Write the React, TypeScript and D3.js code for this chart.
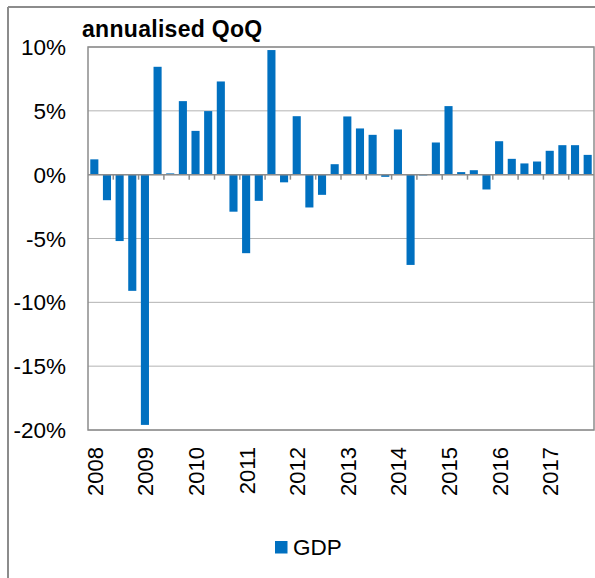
import React from "react";
import * as d3 from "d3";

const quarters: string[] = [];
const years = ["2008", "2009", "2010", "2011", "2012", "2013", "2014", "2015", "2016", "2017"];
for (const y of years) for (const q of ["Q1", "Q2", "Q3", "Q4"]) quarters.push(y + q);

const gdp = [
  1.2, -2.0, -5.2, -9.1, -19.6, 8.45, 0.1, 5.76,
  3.43, 4.98, 7.3, -2.9, -6.15, -2.05, 9.76, -0.6,
  4.58, -2.57, -1.58, 0.82, 4.56, 3.62, 3.12, -0.17,
  3.54, -7.07, -0.05, 2.52, 5.37, 0.2, 0.35, -1.16,
  2.62, 1.24, 0.88, 1.03, 1.87, 2.31, 2.31, 1.55,
];

const yTicks = [10, 5, 0, -5, -10, -15, -20];

const W = 595;
const H = 578;
const left = 88;
const right = 594;
const top = 47;
const bottom = 430;
const BLUE = "#0070C0";
const FONT = "'Liberation Sans', Arial, sans-serif";

export default function App() {
  const x = d3.scaleBand<string>().domain(quarters).range([left, right]).paddingInner(0.36).paddingOuter(0.18);
  const y = d3.scaleLinear().domain([-20, 10]).range([bottom, top]);
  const step = x.step();
  const y0 = y(0);

  return (
    <svg width={W} height={H} style={{ position: "absolute", left: 0, top: 0 }} fontFamily={FONT}>
      <rect x={0} y={0} width={W} height={H} fill="#fff" />
      {/* outer frame */}
      <line x1={8} x2={W} y1={7} y2={7} stroke="#8c8c8c" strokeWidth={2} />
      <line x1={8} x2={8} y1={7} y2={H} stroke="#8c8c8c" strokeWidth={2} />

      <text x={82} y={37} fontSize={23} fontWeight="bold" fill="#000" letterSpacing={0.3}>
        annualised QoQ
      </text>

      {/* gridlines */}
      {yTicks.map((t) => (
        <line key={"g" + t} x1={left} x2={right} y1={y(t)} y2={y(t)} stroke="#b3b3b3" strokeWidth={1} />
      ))}
      {/* plot border */}
      <rect x={left} y={top} width={right - left} height={bottom - top} fill="none" stroke="#8c8c8c" strokeWidth={1.5} />

      {/* y labels */}
      {yTicks.map((t) => (
        <text key={"yl" + t} x={66} y={y(t) + 8} fontSize={22.5} textAnchor="end" fill="#000">
          {t + "%"}
        </text>
      ))}

      {/* ticks on zero line */}
      {quarters.map((q, i) =>
        i % 2 === 0 && i > 0 ? (
          <line key={"t" + q} x1={(x(q) as number) - (step - x.bandwidth()) / 2} x2={(x(q) as number) - (step - x.bandwidth()) / 2} y1={y0} y2={y0 + 5} stroke="#8c8c8c" strokeWidth={1.5} />
        ) : null
      )}

      {/* bars */}
      {quarters.map((q, i) => {
        const v = gdp[i];
        const yt = y(Math.max(0, v));
        const yb = y(Math.min(0, v));
        return <rect key={q} x={x(q)} y={yt} width={x.bandwidth()} height={Math.max(0.8, yb - yt)} fill={BLUE} />;
      })}

      {/* zero axis */}
      <line x1={left} x2={right} y1={y0} y2={y0} stroke="#8c8c8c" strokeWidth={1.5} />

      {/* x labels */}
      {quarters.map((q, i) =>
        i % 4 === 0 ? (
          <text
            key={"xl" + q}
            transform={`translate(${(x(q) as number) + x.bandwidth() / 2 + 8.5},447) rotate(-90)`}
            fontSize={22}
            textAnchor="end"
            fill="#000"
          >
            {q.slice(0, 4)}
          </text>
        ) : null
      )}

      {/* legend */}
      <rect x={275} y={541} width={12.5} height={12.5} fill={BLUE} />
      <text x={293} y={554.5} fontSize={22.5} fill="#000">
        GDP
      </text>
    </svg>
  );
}
